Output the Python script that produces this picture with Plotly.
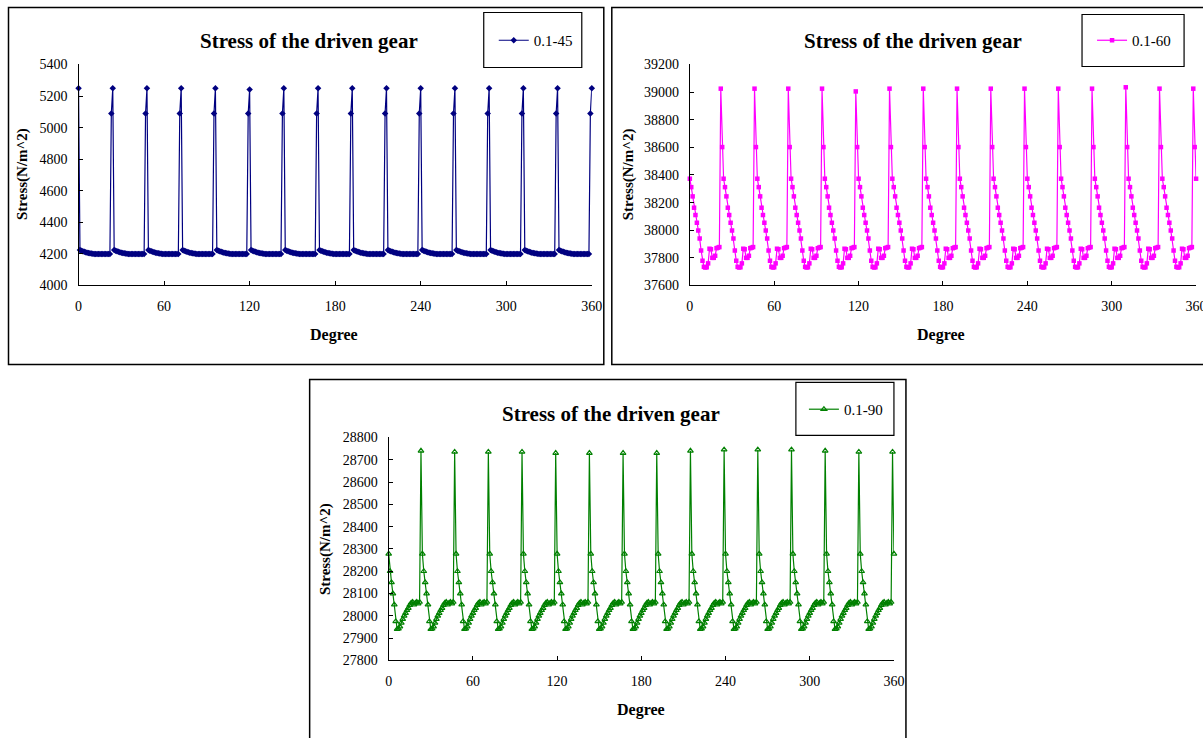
import plotly.graph_objects as go

# ---------------- data ----------------
degrees = list(range(0, 361))
x_ticks = [0, 60, 120, 180, 240, 300, 360]

# 0.1-45 : one 24-degree tooth cycle, k = degree mod 24 (k=0 is the peak)
cycle_45 = [None, 4225, 4220, 4217, 4214, 4211, 4208, 4206, 4204, 4202, 4201, 4200,
            4200, 4200, 4200, 4200, 4200, 4200, 4200, 4200, 4200, 4200, 4200, 5090]
peaks_45 = [5250, 5250, 5250, 5250, 5250, 5242, 5250, 5250, 5250, 5250, 5250, 5250,
            5250, 5250, 5250, 5250]          # at 0, 24, ..., 360
peak_k_45 = 0

# 0.1-60 : k=22 is the peak
cycle_60 = [38373, 38312, 38245, 38163, 38110, 38054, 37998, 37940, 37853, 37779, 37735, 37730,
            37732, 37760, 37866, 37862, 37800, 37800, 37815, 37870, 37874, 37878, None, 38602]
peaks_60 = [39025, 39025, 39025, 39025, 39005, 39025, 39025, 39025, 39025, 39025, 39025, 39025,
            39035, 39025, 39025]
peak_k_60 = 22

# 0.1-90 : k=23 is the peak
cycle_90 = [28278, 28200, 28150, 28100, 28050, 27975, 27940, 27942, 27952, 27968, 27985, 28000,
            28012, 28025, 28035, 28048, 28058, 28062, 28050, 28058, 28062, 28055, 28062, None]
peaks_90 = [28740, 28735, 28735, 28735, 28730, 28730, 28730, 28730, 28740, 28745, 28745, 28745,
            28740, 28735, 28735]
peak_k_90 = 23


def build(cycle, peaks, peak_k):
    vals = []
    for d in degrees:
        k = d % 24
        if k == peak_k:
            vals.append(peaks[(d - peak_k) // 24])
        else:
            vals.append(cycle[k])
    return vals


s45 = build(cycle_45, peaks_45, peak_k_45)
s60 = build(cycle_60, peaks_60, peak_k_60)
s90 = build(cycle_90, peaks_90, peak_k_90)


# ---------------- helpers (target pixel -> paper, with a measured correction) ----------------
AX, BX = 3.5, 0.988
AY, BY = 7.5, 0.980
W, H = 1216, 746


def px(x):
    return min(1.0, max(0.0, ((x - AX) / BX) / W))


def py(y):
    return min(1.0, max(0.0, 1 - ((y - AY) / BY) / H))


SERIF = "Liberation Serif, Times New Roman, serif"

fig = go.Figure()

fig.add_trace(go.Scatter(
    x=degrees, y=s45, name="0.1-45", mode="lines+markers", showlegend=True,
    line=dict(color="#000080", width=1.2),
    marker=dict(symbol="diamond", size=5, color="#000080"),
    xaxis="x", yaxis="y", legend="legend", cliponaxis=False))

fig.add_trace(go.Scatter(
    x=degrees, y=s60, name="0.1-60", mode="lines+markers", showlegend=True,
    line=dict(color="#FF00FF", width=1.2),
    marker=dict(symbol="square", size=4.5, color="#FF00FF"),
    xaxis="x2", yaxis="y2", legend="legend2", cliponaxis=False))

fig.add_trace(go.Scatter(
    x=degrees, y=s90, name="0.1-90", mode="lines+markers", showlegend=True,
    line=dict(color="#008000", width=1.2),
    marker=dict(symbol="triangle-up-open", size=5, color="#008000", line=dict(width=1.2)),
    xaxis="x3", yaxis="y3", legend="legend3", cliponaxis=False))

tickfont = dict(family=SERIF, size=14, color="black")


def xax(x0, x1, anchor):
    return dict(domain=[px(x0), px(x1)], range=[0, 360], tickvals=x_ticks,
                ticks="inside", ticklen=4, tickcolor="black", showline=True,
                linecolor="black", linewidth=1.3, showgrid=False, zeroline=False,
                tickfont=tickfont, anchor=anchor, ticklabelstandoff=8, fixedrange=True)


def yax(y_top, y_bot, lo, hi, step, anchor):
    return dict(domain=[py(y_bot), py(y_top)], range=[lo, hi], dtick=step, tick0=lo,
                tickformat="d",
                ticks="inside", ticklen=4, tickcolor="black", showline=True,
                linecolor="black", linewidth=1.3, showgrid=False, zeroline=False,
                tickfont=tickfont, anchor=anchor, ticklabelstandoff=7, fixedrange=True)


layout = dict(
    width=W, height=H, margin=dict(l=0, r=0, t=0, b=0), autosize=False,
    paper_bgcolor="white", plot_bgcolor="white",
    font=dict(family=SERIF, color="black"),
    showlegend=True,
    xaxis=xax(78, 591, "y"),
    yaxis=yax(65, 286, 4000, 5400, 200, "x"),
    xaxis2=xax(689, 1195, "y2"),
    yaxis2=yax(65, 286, 37600, 39200, 200, "x2"),
    xaxis3=xax(388, 893, "y3"),
    yaxis3=yax(438, 661, 27800, 28800, 100, "x3"),
)

leg_common = dict(bgcolor="rgba(0,0,0,0)", borderwidth=0, xanchor="center", yanchor="middle",
                  font=dict(family=SERIF, size=15, color="black"), itemwidth=30,
                  tracegroupgap=0)
layout["legend"] = dict(x=px(535), y=py(41), **leg_common)
layout["legend2"] = dict(x=px(1133), y=py(41), **leg_common)
layout["legend3"] = dict(x=px(845), y=py(410), **leg_common)

shapes = []
for (x0, y0, x1, y1, w) in [(8, 8, 603, 365, 1.5), (611, 8, 1230, 365, 1.5), (309, 380, 905, 760, 1.5),
                            (483, 13, 581, 68, 1.2), (1081, 15, 1183, 67, 1.2), (795, 383, 893, 436, 1.2)]:
    shapes.append(dict(type="rect", xref="paper", yref="paper",
                       x0=((x0 - AX) / BX) / W, x1=((x1 - AX) / BX) / W,
                       y0=1 - ((y1 - AY) / BY) / H, y1=1 - ((y0 - AY) / BY) / H,
                       line=dict(color="black", width=w), fillcolor="rgba(0,0,0,0)"))
layout["shapes"] = shapes

ann = []
title_font = dict(family=SERIF, size=21, color="black")
deg_font = dict(family=SERIF, size=16, color="black")
ytl_font = dict(family=SERIF, size=15, color="black")
for (x, y) in [(308, 42), (912, 42), (610, 415)]:
    ann.append(dict(text="<b>Stress of the driven gear</b>", x=px(x), y=py(y), xref="paper", yref="paper",
                    showarrow=False, font=title_font, xanchor="center", yanchor="middle"))
for (x, y) in [(333, 336), (940, 336), (640, 711)]:
    ann.append(dict(text="<b>Degree</b>", x=px(x), y=py(y), xref="paper", yref="paper",
                    showarrow=False, font=deg_font, xanchor="center", yanchor="middle"))
for (x, y) in [(22, 175), (628, 175), (325, 550)]:
    ann.append(dict(text="<b>Stress(N/m^2)</b>", x=px(x), y=py(y), xref="paper", yref="paper",
                    showarrow=False, font=ytl_font, textangle=-90, xanchor="center", yanchor="middle"))
layout["annotations"] = ann

fig.update_layout(**layout)
fig.write_html("out.html", config={"displayModeBar": False})

# remove the default page margin so the figure sits at the window origin
with open("out.html", "r", encoding="utf-8") as f:
    html = f.read()
html = html.replace("<head>", "<head><style>html,body{margin:0;padding:0;overflow:hidden;}</style>", 1)
with open("out.html", "w", encoding="utf-8") as f:
    f.write(html)
